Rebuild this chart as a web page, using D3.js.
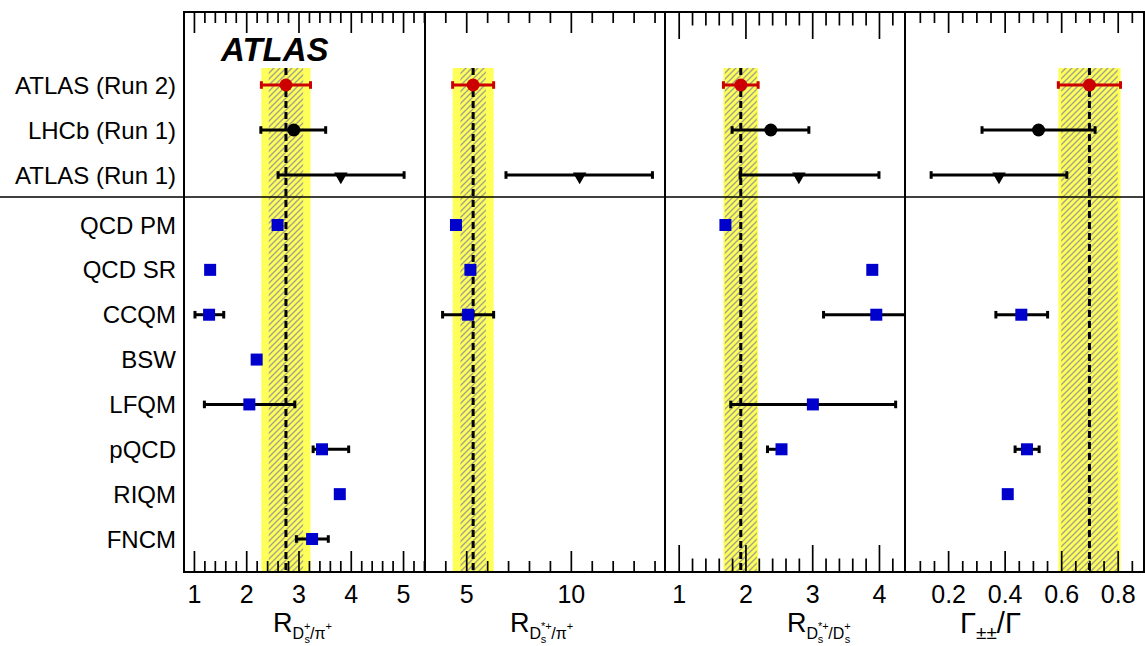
<!DOCTYPE html>
<html>
<head>
<meta charset="utf-8">
<script src="https://cdn.jsdelivr.net/npm/d3@7"></script>
<style>
  body { margin: 0; background: #fff; }
  svg { display: block; }
  text { font-family: "Liberation Sans", Arial, Helvetica, sans-serif; fill: #000; }
</style>
</head>
<body>
<svg id="chart" width="1145" height="646"></svg>
<script>
// rows
const measLabels = ['ATLAS (Run 2)', 'LHCb (Run 1)', 'ATLAS (Run 1)'];
const modelLabels = ['QCD PM', 'QCD SR', 'CCQM', 'BSW', 'LFQM', 'pQCD', 'RIQM', 'FNCM'];

// one entry per panel: R(Ds/pi), R(Ds*/pi), R(Ds*/Ds), Gamma_pm/Gamma
const atlasRun2Value = [2.76, 5.33, 1.93, 0.70];
const atlasRun2Stat  = [0.33, 0.61, 0.24, 0.10];
const atlasRun2Total = [0.47, 0.98, 0.26, 0.11];

// [value, low, high]
const lhcbRun1  = [[2.91, 2.28, 3.52], null, [2.38, 1.80, 2.95], [0.52, 0.32, 0.72]];
const atlasRun1 = [[3.81, 2.61, 5.02], [10.42, 6.90, 13.9], [2.80, 1.92, 4.00], [0.38, 0.14, 0.62]];

// model predictions, same order as modelLabels; [value] or [value, low, high]
const modelsRDsPi = [[2.60], [1.31], [1.29, 1.02, 1.57], [2.20], [2.06, 1.20, 2.93], [3.45, 3.28, 3.96], [3.79], [3.26, 2.96, 3.57]];
const modelsRDsStarPi = [[4.51], [5.20], [5.09, 3.87, 6.31], null, null, null, null, null];
const modelsRDsStarDs = [[1.70], [3.90], [3.96, 3.17, 4.75], null, [3.01, 1.78, 4.25], [2.54, 2.33, 2.60], null, null];
const modelsGamma = [null, null, [0.459, 0.369, 0.552], null, null, [0.479, 0.437, 0.522], [0.411], null];
const modelSets = [modelsRDsPi, modelsRDsStarPi, modelsRDsStarDs, modelsGamma];

// axis ticks
const majorTicks = [[1, 2, 3, 4, 5], [5, 10], [1, 2, 3, 4], [0.2, 0.4, 0.6, 0.8]];
const tickLabels = [['1', '2', '3', '4', '5'], ['5', '10'], ['1', '2', '3', '4'], ['0.2', '0.4', '0.6', '0.8']];
const minorSteps = [0.2, 1, 0.2, 0.05];

const TOP = 12, BOTTOM = 572, LEFT = 184, RIGHT = 1144;
const panels = [
  { x0: 184, x1: 425, domain: [0.81, 5.42], len: [21, 11], titleX: 273 },
  { x0: 425, x1: 665, domain: [3.03, 14.5], len: [21, 11], titleX: 510 },
  { x0: 665, x1: 905, domain: [0.795, 4.39], len: [27, 13.5], titleX: 787 },
  { x0: 905, x1: 1144, domain: [0.0475, 0.893], len: [21, 11], titleX: 960 }
];

const svg = d3.select('#chart');
const defs = svg.append('defs');

// hatch for the stat band
const pat = defs.append('pattern')
  .attr('id', 'hatch')
  .attr('patternUnits', 'userSpaceOnUse')
  .attr('width', 6).attr('height', 6);
pat.append('rect').attr('width', 6).attr('height', 6).attr('fill', '#ffff5a');
pat.append('path')
  .attr('d', 'M0,6 L6,0 M-1,1 L1,-1 M5,7 L7,5')
  .attr('stroke', '#a3a38c').attr('stroke-width', 1.4);

const yMeas = d3.scalePoint().domain(measLabels).range([85, 175]);
const yModel = d3.scalePoint().domain(modelLabels).range([225, 539]);

function errBar(g, x, y, lo, hi, color) {
  g.append('line')
    .attr('x1', x(lo)).attr('x2', x(hi)).attr('y1', y).attr('y2', y)
    .attr('stroke', color).attr('stroke-width', 3);
  [lo, hi].forEach(v => {
    g.append('line')
      .attr('x1', x(v)).attr('x2', x(v)).attr('y1', y - 3.8).attr('y2', y + 3.8)
      .attr('stroke', color).attr('stroke-width', 3);
  });
}

panels.forEach((p, i) => {
  const x = d3.scaleLinear().domain(p.domain).range([p.x0, p.x1]);

  defs.append('clipPath').attr('id', 'clip' + i)
    .append('rect').attr('x', p.x0).attr('y', TOP).attr('width', p.x1 - p.x0).attr('height', BOTTOM - TOP);
  const g = svg.append('g').attr('clip-path', `url(#clip${i})`);

  const v = atlasRun2Value[i], st = atlasRun2Stat[i], tot = atlasRun2Total[i];
  g.append('rect')
    .attr('x', x(v - tot)).attr('width', x(v + tot) - x(v - tot))
    .attr('y', 68).attr('height', BOTTOM - 68)
    .attr('fill', '#ffff5a');
  g.append('rect')
    .attr('x', x(v - st)).attr('width', x(v + st) - x(v - st))
    .attr('y', 68).attr('height', BOTTOM - 68)
    .attr('fill', 'url(#hatch)');
  g.append('line')
    .attr('x1', x(v)).attr('x2', x(v)).attr('y1', 68).attr('y2', BOTTOM)
    .attr('stroke', '#000').attr('stroke-width', 3).attr('stroke-dasharray', '7,4');

  // ATLAS Run 2
  const yA2 = yMeas('ATLAS (Run 2)');
  errBar(g, x, yA2, v - tot, v + tot, '#cc0000');
  g.append('circle').attr('cx', x(v)).attr('cy', yA2).attr('r', 6.5).attr('fill', '#cc0000');

  // LHCb Run 1
  const lh = lhcbRun1[i];
  if (lh) {
    const yL = yMeas('LHCb (Run 1)');
    errBar(g, x, yL, lh[1], lh[2], '#000');
    g.append('circle').attr('cx', x(lh[0])).attr('cy', yL).attr('r', 6.5).attr('fill', '#000');
  }

  // ATLAS Run 1
  const a1 = atlasRun1[i];
  const yA1 = yMeas('ATLAS (Run 1)');
  errBar(g, x, yA1, a1[1], a1[2], '#000');
  g.append('path')
    .attr('d', d3.symbol(d3.symbolTriangle, 80)())
    .attr('transform', `translate(${x(a1[0])},${yA1 + 1.5}) rotate(180)`)
    .attr('fill', '#000');

  // model predictions
  modelSets[i].forEach((m, j) => {
    if (!m) return;
    const y = yModel(modelLabels[j]);
    if (m.length === 3) errBar(g, x, y, m[1], m[2], '#000');
    g.append('rect')
      .attr('x', x(m[0]) - 6).attr('y', y - 6)
      .attr('width', 12).attr('height', 12)
      .attr('fill', '#0000cc');
  });

  // ticks
  const minor = d3.range(Math.ceil(p.domain[0] / minorSteps[i]) * minorSteps[i], p.domain[1], minorSteps[i])
    .map(t => +t.toFixed(4))
    .filter(t => x(t) > p.x0 + 1 && x(t) < p.x1 - 1 && !majorTicks[i].some(m => Math.abs(m - t) < 1e-6));

  const axes = svg.append('g');
  const styleAxis = sel => {
    sel.select('.domain').remove();
    sel.selectAll('.tick line').attr('stroke', '#000').attr('stroke-width', 1.7);
  };
  axes.append('g').attr('transform', `translate(0,${BOTTOM})`)
    .call(d3.axisBottom(x).tickValues(minor).tickSize(-p.len[1]).tickFormat(''))
    .call(styleAxis);
  axes.append('g').attr('transform', `translate(0,${BOTTOM})`)
    .call(d3.axisBottom(x).tickValues(majorTicks[i]).tickSize(-p.len[0]).tickPadding(13)
      .tickFormat((d, k) => tickLabels[i][k]))
    .call(styleAxis)
    .call(s => s.selectAll('.tick text')
      .attr('font-size', 25).attr('fill', '#000')
      .attr('font-family', '"Liberation Sans", Arial, sans-serif'));
  axes.append('g').attr('transform', `translate(0,${TOP})`)
    .call(d3.axisTop(x).tickValues(minor).tickSize(-p.len[1]).tickFormat(''))
    .call(styleAxis);
  axes.append('g').attr('transform', `translate(0,${TOP})`)
    .call(d3.axisTop(x).tickValues(majorTicks[i]).tickSize(-p.len[0]).tickFormat(''))
    .call(styleAxis);
});

// frame and separators
svg.append('rect')
  .attr('x', LEFT).attr('y', TOP).attr('width', RIGHT - LEFT).attr('height', BOTTOM - TOP)
  .attr('fill', 'none').attr('stroke', '#000').attr('stroke-width', 2);
[425, 665, 905].forEach(xx => {
  svg.append('line').attr('x1', xx).attr('x2', xx).attr('y1', TOP).attr('y2', BOTTOM)
    .attr('stroke', '#000').attr('stroke-width', 2);
});
svg.append('line').attr('x1', 0).attr('x2', 1145).attr('y1', 197).attr('y2', 197)
  .attr('stroke', '#000').attr('stroke-width', 1.6);

// row labels
const labels = svg.append('g').attr('font-size', 24).attr('text-anchor', 'end');
measLabels.forEach(l => labels.append('text').attr('x', 176).attr('y', yMeas(l)).attr('dy', '0.36em').text(l));
modelLabels.forEach(l => labels.append('text').attr('x', 176).attr('y', yModel(l)).attr('dy', '0.36em').text(l));

svg.append('text')
  .attr('x', 221).attr('y', 61)
  .attr('font-size', 33).attr('font-weight', 'bold').attr('font-style', 'italic')
  .text('ATLAS');

// axis titles
function rTitle(x0, parts) {
  const t = svg.append('text').attr('x', x0).attr('y', 632);
  t.append('tspan').attr('font-size', 27).text('R');
  parts.forEach(pt => {
    const s = t.append('tspan').attr('font-size', pt.size).text(pt.text);
    if (pt.dx) s.attr('dx', pt.dx);
    if (pt.dy) s.attr('dy', pt.dy);
  });
}
rTitle(panels[0].titleX, [
  { text: 'D', size: 16, dy: 7 },
  { text: '+', size: 11, dy: -9 },
  { text: 's', size: 11, dx: -6, dy: 13 },
  { text: '/π', size: 16, dy: -4 },
  { text: '+', size: 11, dy: -9 }
]);
rTitle(panels[1].titleX, [
  { text: 'D', size: 16, dy: 7 },
  { text: '*+', size: 11, dy: -9 },
  { text: 's', size: 11, dx: -11, dy: 13 },
  { text: '/π', size: 16, dx: 5, dy: -4 },
  { text: '+', size: 11, dy: -9 }
]);
rTitle(panels[2].titleX, [
  { text: 'D', size: 16, dy: 7 },
  { text: '*+', size: 11, dy: -9 },
  { text: 's', size: 11, dx: -11, dy: 13 },
  { text: '/D', size: 16, dx: 5, dy: -4 },
  { text: '+', size: 11, dy: -9 },
  { text: 's', size: 11, dx: -6, dy: 13 }
]);
const gt = svg.append('text').attr('x', panels[3].titleX).attr('y', 633)
  .attr('font-family', '"Liberation Serif", "Times New Roman", serif');
gt.append('tspan').attr('font-size', 29).text('Γ');
gt.append('tspan').attr('font-size', 19).attr('dy', 6).text('±±');
gt.append('tspan').attr('font-size', 29).attr('dy', -6).text('/Γ');
</script>
</body>
</html>
